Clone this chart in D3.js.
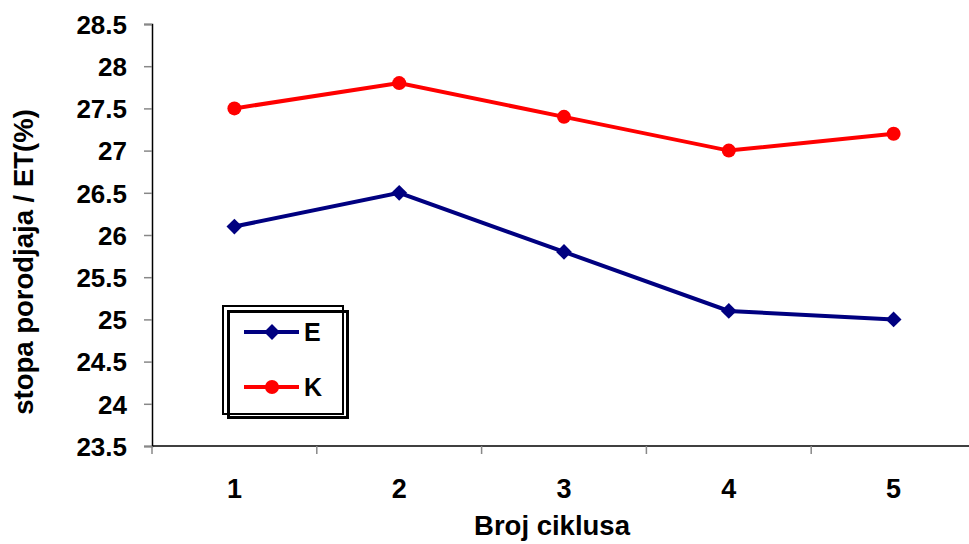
<!DOCTYPE html>
<html>
<head>
<meta charset="utf-8">
<script src="https://cdn.jsdelivr.net/npm/d3@7"></script>
<style>
  html, body { margin: 0; padding: 0; background: #fff; }
  svg { display: block; font-family: "Liberation Sans", Arial, sans-serif; font-weight: bold; }
</style>
</head>
<body>
<script>
// Birth rate per embryo transfer by treatment cycle
const cycles = ["1", "2", "3", "4", "5"];
const seriesE = [26.1, 26.5, 25.8, 25.1, 25.0];
const seriesK = [27.5, 27.8, 27.4, 27.0, 27.2];
const yTicks = [23.5, 24, 24.5, 25, 25.5, 26, 26.5, 27, 27.5, 28, 28.5];
const seriesNames = ["E", "K"];
const seriesColors = ["#000080", "#ff0000"];

(function () {
const W = 969, H = 544;
const plotLeft = 152, plotTop = 24, plotBottom = 446, bandW = 164.8;

const svg = d3.select("body").append("svg").attr("width", W).attr("height", H);

const x = d3.scaleBand().domain(cycles).range([plotLeft, plotLeft + bandW * cycles.length]);
const y = d3.scaleLinear().domain([23.5, 28.5]).range([plotBottom, plotTop]);

// Y axis
const yAxis = svg.append("g").attr("transform", `translate(${plotLeft},0)`)
  .call(d3.axisLeft(y).tickValues(yTicks).tickSize(8).tickPadding(17)
    .tickFormat(d => String(d)));
yAxis.select(".domain").attr("stroke", "#000").attr("stroke-width", 1.5);
yAxis.selectAll(".tick line").attr("stroke", "#888").attr("stroke-width", 1.5);
yAxis.selectAll(".tick text").attr("font-size", 26).attr("font-weight", "bold")
  .attr("fill", "#000").attr("font-family", "Liberation Sans, Arial, sans-serif")
  .attr("dy", "0.36em");

// X axis with ticks at band boundaries
const xAxisG = svg.append("g").attr("transform", `translate(0,${plotBottom})`);
xAxisG.append("line").attr("x1", plotLeft).attr("x2", W).attr("y1", 0).attr("y2", 0)
  .attr("stroke", "#000").attr("stroke-width", 1.5);
const bounds = cycles.map(c => x(c)).concat([x(cycles[cycles.length - 1]) + x.bandwidth()]);
xAxisG.selectAll("line.tk").data(bounds).enter().append("line").attr("class", "tk")
  .attr("x1", d => d).attr("x2", d => d).attr("y1", 0).attr("y2", 8)
  .attr("stroke", "#888").attr("stroke-width", 1.5);
xAxisG.selectAll("text").data(cycles).enter().append("text")
  .attr("x", d => x(d) + x.bandwidth() / 2).attr("y", 52)
  .attr("text-anchor", "middle").attr("font-size", 27).text(d => d);

// Axis titles
svg.append("text").attr("x", 552).attr("y", 535).attr("text-anchor", "middle")
  .attr("font-size", 27.5).text("Broj ciklusa");
svg.append("text").attr("transform", "translate(33,262) rotate(-90)")
  .attr("text-anchor", "middle").attr("font-size", 27.5).text("stopa porodjaja / ET(%)");

// Lines and markers
const cx = c => x(c) + x.bandwidth() / 2;
const line = d3.line().x((d, i) => cx(cycles[i])).y(d => y(d));
const diamond = d3.symbol().type(d3.symbolSquare).size(125);

svg.append("path").datum(seriesE).attr("d", line).attr("fill", "none")
  .attr("stroke", seriesColors[0]).attr("stroke-width", 4);
svg.append("path").datum(seriesK).attr("d", line).attr("fill", "none")
  .attr("stroke", seriesColors[1]).attr("stroke-width", 4);

svg.selectAll("path.mE").data(seriesE).enter().append("path").attr("class", "mE")
  .attr("d", diamond).attr("transform", (d, i) => `translate(${cx(cycles[i])},${y(d)}) rotate(45)`)
  .attr("fill", seriesColors[0]);
svg.selectAll("circle.mK").data(seriesK).enter().append("circle").attr("class", "mK")
  .attr("cx", (d, i) => cx(cycles[i])).attr("cy", d => y(d)).attr("r", 7)
  .attr("fill", seriesColors[1]);

// Legend with offset double frame
const lg = svg.append("g");
lg.append("rect").attr("x", 223).attr("y", 306).attr("width", 120).attr("height", 108)
  .attr("fill", "#fff").attr("stroke", "#000").attr("stroke-width", 2);
lg.append("rect").attr("x", 228.5).attr("y", 311.5).attr("width", 119).attr("height", 106)
  .attr("fill", "none").attr("stroke", "#000").attr("stroke-width", 3);
const rows = [332, 387];
seriesNames.forEach((n, i) => {
  lg.append("line").attr("x1", 244).attr("x2", 299).attr("y1", rows[i]).attr("y2", rows[i])
    .attr("stroke", seriesColors[i]).attr("stroke-width", 4);
  if (i === 0) {
    lg.append("path").attr("d", diamond).attr("transform", `translate(272,${rows[i]}) rotate(45)`)
      .attr("fill", seriesColors[i]);
  } else {
    lg.append("circle").attr("cx", 272).attr("cy", rows[i]).attr("r", 7).attr("fill", seriesColors[i]);
  }
  lg.append("text").attr("x", 304).attr("y", rows[i] + 9).attr("font-size", 25).text(n);
});
})();
</script>
</body>
</html>
